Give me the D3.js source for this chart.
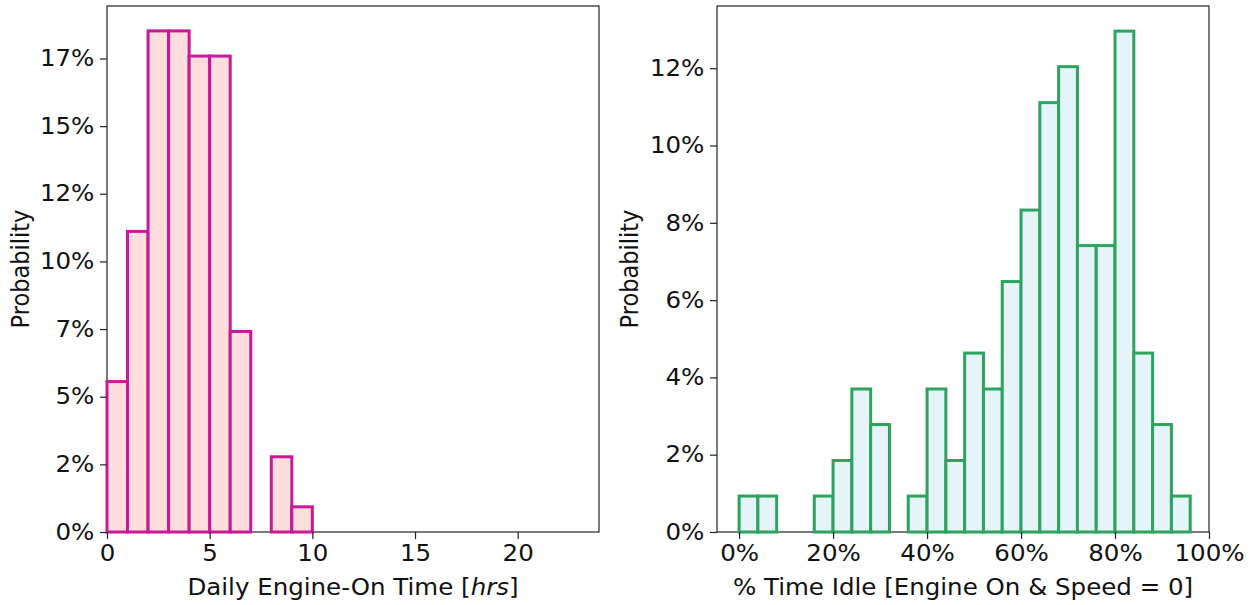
<!DOCTYPE html>
<html>
<head>
<meta charset="utf-8">
<script src="https://cdn.jsdelivr.net/npm/d3@7"></script>
<style>
  html, body { margin: 0; padding: 0; background: #fff; }
  svg { display: block; font-family: "DejaVu Sans", sans-serif; }
</style>
</head>
<body>
<svg id="chart" width="1252" height="605"></svg>
<script>
// ---- Data ----
// Left histogram: Daily Engine-On Time (hrs), bins of width 1 from 0 to 23
const engineBinEdges = d3.range(0, 24, 1);
const engineProb = [0.0556, 0.1111, 0.1852, 0.1852, 0.1759, 0.1759, 0.0741, 0, 0.0278, 0.0093,
                    0, 0, 0, 0, 0, 0, 0, 0, 0, 0, 0, 0, 0];
const engineXTicks = [0, 5, 10, 15, 20];
const engineYTicks = [0, 0.025, 0.05, 0.075, 0.10, 0.125, 0.15, 0.175];
const engineYLabels = ["0%", "2%", "5%", "7%", "10%", "12%", "15%", "17%"];

// Right histogram: % Time Idle, bins of width 4% from 0 to 96%
const idleBinEdges = d3.range(0, 1.0001, 0.04);
const idleProb = [0.0093, 0.0093, 0, 0, 0.0093, 0.0185, 0.0370, 0.0278, 0, 0.0093, 0.0370, 0.0185,
                  0.0463, 0.0370, 0.0648, 0.0833, 0.1111, 0.1204, 0.0741, 0.0741, 0.1296, 0.0463, 0.0278, 0.0093];
const idleXTicks = [0, 0.2, 0.4, 0.6, 0.8, 1.0];
const idleXLabels = ["0%", "20%", "40%", "60%", "80%", "100%"];
const idleYTicks = [0, 0.02, 0.04, 0.06, 0.08, 0.10, 0.12];
const idleYLabels = ["0%", "2%", "4%", "6%", "8%", "10%", "12%"];

const svg = d3.select("#chart");
const FONT = 22.5;
const SX = 1.09; // horizontal stretch of the reference text

function drawHist(cfg) {
  const g = svg.append("g");
  const x = d3.scaleLinear().domain(cfg.xDomain).range([cfg.left, cfg.right]);
  const y = d3.scaleLinear().domain(cfg.yDomain).range([cfg.bottom, cfg.top]);

  // frame
  g.append("rect")
    .attr("x", cfg.left).attr("y", cfg.top)
    .attr("width", cfg.right - cfg.left).attr("height", cfg.bottom - cfg.top)
    .attr("fill", "none").attr("stroke", "#222").attr("stroke-width", 1.2);

  // bars
  g.append("g").selectAll("rect").data(cfg.values).join("rect")
    .attr("x", (d, i) => x(cfg.edges[i]))
    .attr("y", d => y(d))
    .attr("width", (d, i) => x(cfg.edges[i] + cfg.binW) - x(cfg.edges[i]))
    .attr("height", d => y(0) - y(d))
    .attr("fill", cfg.fill)
    .attr("stroke", cfg.stroke)
    .attr("stroke-width", 3);

  // axes
  const xAxis = d3.axisBottom(x).tickValues(cfg.xTicks).tickSize(7).tickPadding(6)
    .tickFormat((d, i) => cfg.xLabels ? cfg.xLabels[i] : d3.format("d")(d));
  const gx = g.append("g").attr("transform", `translate(0,${cfg.bottom})`).call(xAxis);
  gx.select(".domain").remove();
  gx.selectAll("line").attr("stroke", "#222").attr("stroke-width", 1.2);
  gx.selectAll("text").attr("font-size", FONT).attr("fill", "#111").attr("font-family", "DejaVu Sans")
    .attr("transform", `scale(${SX},1)`);

  const yAxis = d3.axisLeft(y).tickValues(cfg.yTicks).tickSize(7).tickPadding(4.6)
    .tickFormat((d, i) => cfg.yLabels[i]);
  const gy = g.append("g").attr("transform", `translate(${cfg.left},0)`).call(yAxis);
  gy.select(".domain").remove();
  gy.selectAll("line").attr("stroke", "#222").attr("stroke-width", 1.2);
  gy.selectAll("text").attr("font-size", FONT).attr("fill", "#111").attr("font-family", "DejaVu Sans")
    .attr("transform", `scale(${SX},1)`);

  // labels
  const xl = g.append("text")
    .attr("transform", `translate(${(cfg.left + cfg.right) / 2},595) scale(${SX},1)`)
    .attr("text-anchor", "middle").attr("font-size", FONT).attr("fill", "#111");
  cfg.xTitle(xl);

  g.append("text")
    .attr("transform", `translate(${cfg.yLabelX},${(cfg.top + cfg.bottom) / 2}) scale(${SX},1) rotate(-90)`)
    .attr("text-anchor", "middle").attr("font-size", FONT).attr("fill", "#111")
    .text("Probability");
}

drawHist({
  left: 107, right: 599, top: 6, bottom: 532,
  xDomain: [0, 23.96], yDomain: [0, 0.1944],
  edges: engineBinEdges, binW: 1, values: engineProb,
  fill: "#fddedd", stroke: "#c9199b",
  xTicks: engineXTicks, xLabels: null,
  yTicks: engineYTicks, yLabels: engineYLabels,
  yLabelX: 29,
  xTitle: t => {
    t.append("tspan").text("Daily Engine-On Time [");
    t.append("tspan").attr("font-style", "italic").text("hrs");
    t.append("tspan").text("]");
  }
});

drawHist({
  left: 717, right: 1209, top: 6, bottom: 532,
  xDomain: [-0.047, 1.0], yDomain: [0, 0.1361],
  edges: idleBinEdges, binW: 0.04, values: idleProb,
  fill: "#e5f4f9", stroke: "#2ea35e",
  xTicks: idleXTicks, xLabels: idleXLabels,
  yTicks: idleYTicks, yLabels: idleYLabels,
  yLabelX: 638,
  xTitle: t => t.text("% Time Idle [Engine On & Speed = 0]")
});
</script>
</body>
</html>
